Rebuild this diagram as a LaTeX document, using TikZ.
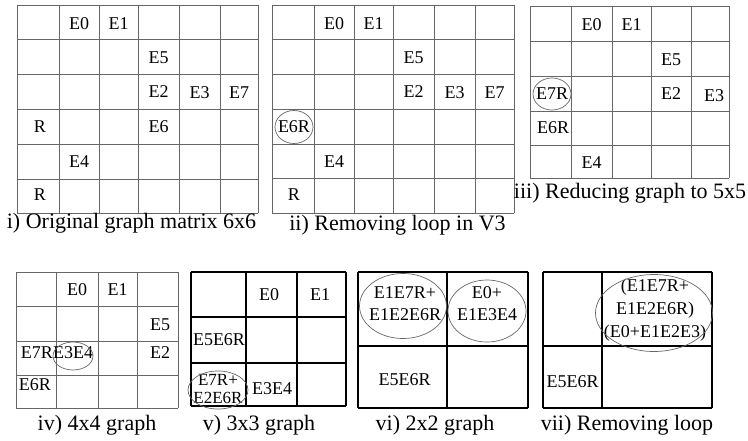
\documentclass[tikz,border=0pt]{standalone}
\usepackage{fontspec}
\setmainfont{Liberation Serif}
\usepackage{tikz}
\usetikzlibrary{calc}
\definecolor{g}{rgb}{.4,.4,.4}
\definecolor{n}{rgb}{0,0,0}
\tikzstyle{cell}=[inner sep=0pt,font=\fontsize{18}{22}\selectfont]
\tikzstyle{caption}=[inner sep=0pt,font=\fontsize{22}{26}\selectfont]
\tikzstyle{thingrid}=[line width=.9pt,color=g]
\tikzstyle{boldgrid}=[line width=1.5pt,color=n]
\tikzstyle{loopmark}=[line width=.7pt,color=g]

\begin{document}
\begin{tikzpicture}[x=1pt,y=-1pt]
	\useasboundingbox (0,0) rectangle (748,440);
	% i) original matrix
	\foreach \x in {17,59,99,138,179,220,258} \draw[thingrid] (\x,5) -- (\x,213);
	\foreach \y in {5,39,74,109,144,179,213} \draw[thingrid] (17,\y) -- (258,\y);
	\node[cell] (aE0) at (79,24) {E0};
	\node[cell] (aE1) at (118.5,24) {E1};
	\node[cell] (aE5) at (158.5,58) {E5};
	\node[cell] (aE2) at (158.5,92) {E2};
	\node[cell] (aE3) at (199.5,93) {E3};
	\node[cell] (aE7) at (239,93) {E7};
	\node[cell] (aR1) at (40,127) {R};
	\node[cell] (aE6) at (158.5,127) {E6};
	\node[cell] (aE4) at (79,162) {E4};
	\node[cell] (aR2) at (40,195) {R};
	\node[caption] (capa) at (131.5,223) {i) Original graph matrix 6x6};
	% ii) loop in V3
	\foreach \x in {272,314,354,393,434,475,514} \draw[thingrid] (\x,5) -- (\x,213);
	\foreach \y in {5,39,74,109,144,178,213} \draw[thingrid] (272,\y) -- (514,\y);
	\node[cell] (bE0) at (334,24) {E0};
	\node[cell] (bE1) at (373.5,24) {E1};
	\node[cell] (bE5) at (413.5,58) {E5};
	\node[cell] (bE2) at (413.5,92) {E2};
	\node[cell] (bE3) at (454.5,93) {E3};
	\node[cell] (bE7) at (494.5,93) {E7};
	\node[cell] (bE6R) at (294,127) {E6R};
	\node[cell] (bE4) at (334,162) {E4};
	\node[cell] (bR) at (294,195) {R};
	\draw[loopmark] (bE6R) ellipse [x radius=19,y radius=16.5];
	\node[caption] (capb) at (397.5,225) {ii) Removing loop in V3};
	% iii) 5x5
	\foreach \x in {530,571,612,651,691,729} \draw[thingrid] (\x,6) -- (\x,178);
	\foreach \y in {6,41,76,111,145,178} \draw[thingrid] (530,\y) -- (729,\y);
	\node[cell] (cE0) at (591.5,25) {E0};
	\node[cell] (cE1) at (631.5,25) {E1};
	\node[cell] (cE5) at (671,60) {E5};
	\node[cell] (cE7R) at (552,94) {E7R};
	\node[cell] (cE2) at (671,94) {E2};
	\node[cell] (cE3) at (714,96) {E3};
	\node[cell] (cE6R) at (553,128) {E6R};
	\node[cell] (cE4) at (591.5,163) {E4};
	\draw[loopmark] (cE7R) ellipse [x radius=19,y radius=16];
	\node[caption] (capc) at (630,193) {iii) Reducing graph to 5x5};
	% iv) 4x4
	\foreach \x in {16,56,98,137,178} \draw[thingrid] (\x,272) -- (\x,408);
	\foreach \y in {272,306,341,375,408} \draw[thingrid] (16,\y) -- (178,\y);
	\node[cell] (dE0) at (77,290) {E0};
	\node[cell] (dE1) at (117.5,290) {E1};
	\node[cell] (dE5) at (160,325) {E5};
	\node[cell] (dE7R) at (37,353) {E7R};
	\node[cell] (dE3E4) at (73,353) {E3E4};
	\node[cell] (dE2) at (160,353) {E2};
	\node[cell] (dE6R) at (35,385) {E6R};
	\draw[loopmark] ($(dE3E4)+(0,3)$) ellipse [x radius=20,y radius=14];
	\node[caption] (capd) at (97,425) {iv) 4x4 graph};
	% v) 3x3
	\foreach \x in {191,246,297,346} \draw[boldgrid] (\x,272) -- (\x,406);
	\foreach \y in {272,317,363,406} \draw[boldgrid] (191,\y) -- (346,\y);
	\node[cell] (eE0) at (269,295) {E0};
	\node[cell] (eE1) at (320,295) {E1};
	\node[cell] (eE5E6R) at (219,340) {E5E6R};
	\node[cell,align=center,font=\fontsize{17}{17.5}\selectfont] (eloop) at (218,389) {E7R+\\E2E6R};
	\node[cell] (eE3E4) at (272,389) {E3E4};
	\draw[loopmark] ($(eloop)+(0,1)$) ellipse [x radius=30,y radius=19];
	\node[caption] (cape) at (259,425) {v) 3x3 graph};
	% vi) 2x2
	\foreach \x in {358,447,528} \draw[boldgrid] (\x,272) -- (\x,408);
	\foreach \y in {272,346,408} \draw[boldgrid] (358,\y) -- (528,\y);
	\node[cell,align=center] (fleft) at (405,304) {E1E7R+\\E1E2E6R};
	\node[cell,align=center] (fright) at (487,304) {E0+\\E1E3E4};
	\node[cell] (fE5E6R) at (404.5,380) {E5E6R};
	\draw[loopmark] ($(fleft)+(-2,2)$) ellipse [x radius=43.5,y radius=32.5];
	\draw[loopmark] ($(fright)+(0,7)$) ellipse [x radius=39,y radius=31];
	\node[caption] (capf) at (435,425) {vi) 2x2 graph};
	% vii) last loop removed
	\foreach \x in {543,602,712} \draw[boldgrid] (\x,272) -- (\x,408);
	\foreach \y in {272,346,408} \draw[boldgrid] (543,\y) -- (712,\y);
	\node[cell,align=center,font=\fontsize{18}{23}\selectfont] (gloop) at (655,310.5) {(E1E7R+\\E1E2E6R)\\(E0+E1E2E3)};
	\node[cell] (gE5E6R) at (572.5,382) {E5E6R};
	\draw[loopmark] ($(gloop)+(-1,2.5)$) ellipse [x radius=58.5,y radius=38.5];
	\node[caption] (capg) at (627,425) {vii) Removing loop};
\end{tikzpicture}
\end{document}
